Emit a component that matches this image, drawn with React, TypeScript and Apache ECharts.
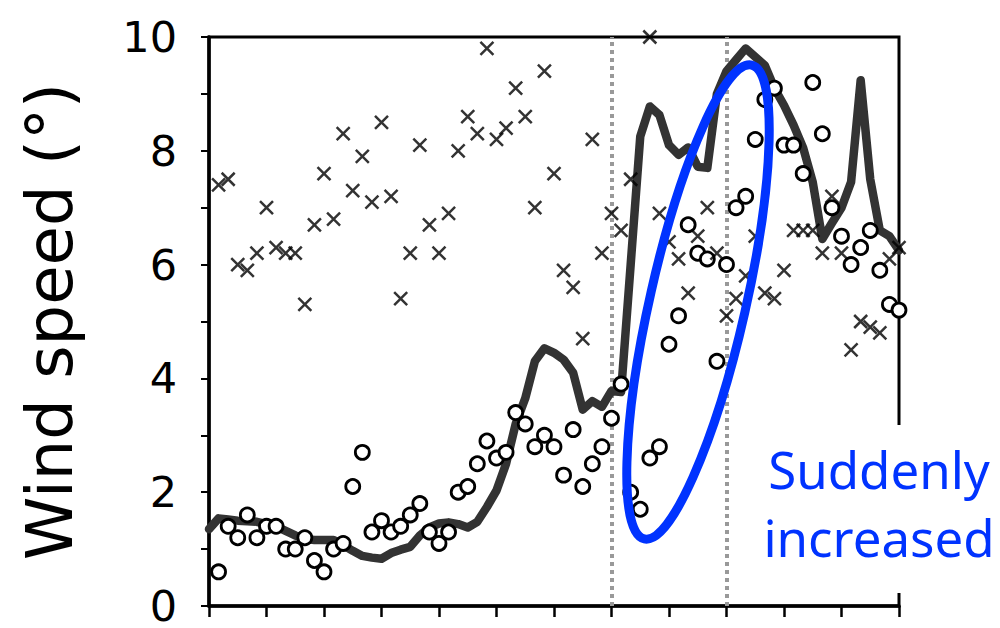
import React, { useEffect, useRef } from "react";
import * as echarts from "echarts";

// Smoothed wind speed (thick line), sampled at time steps 0..72
const lineSpeed = [
  1.35, 1.54, 1.52, 1.5, 1.49, 1.48, 1.44, 1.4, 1.32, 1.24,
  1.18, 1.16, 1.16, 1.16, 1.07, 0.97, 0.88, 0.85, 0.83, 0.93,
  0.99, 1.04, 1.24, 1.38, 1.45, 1.47, 1.44, 1.38, 1.48, 1.74,
  2.03, 2.5, 3.2, 3.65, 4.3, 4.53, 4.45, 4.33, 4.1, 3.45,
  3.6, 3.5, 3.78, 3.76, 6.0, 8.25, 8.78, 8.63, 8.1, 7.93,
  8.06, 7.72, 7.7, 9.0, 9.4, 9.6, 9.8, 9.65, 9.5, 9.1,
  8.8, 8.45, 8.05, 7.45, 6.45, 6.73, 7.0, 7.45, 9.24, 7.5,
  6.6, 6.5, 6.25,
];

// Open circles, time steps 1..72
const circleSpeed = [
  0.6, 1.4, 1.2, 1.6, 1.2, 1.4, 1.4, 1.0, 1.0, 1.2,
  0.8, 0.6, 1.0, 1.1, 2.1, 2.7, 1.3, 1.5, 1.3, 1.4,
  1.6, 1.8, 1.3, 1.1, 1.3, 2.0, 2.1, 2.5, 2.9, 2.6,
  2.7, 3.4, 3.2, 2.8, 3.0, 2.8, 2.3, 3.1, 2.1, 2.5,
  2.8, 3.3, 3.9, 2.0, 1.7, 2.6, 2.8, 4.6, 5.1, 6.7,
  6.2, 6.1, 4.3, 6.0, 7.0, 7.2, 8.2, 8.9, 9.1, 8.1,
  8.1, 7.6, 9.2, 8.3, 7.0, 6.5, 6.0, 6.3, 6.6, 5.9,
  5.3, 5.2,
];

// Crosses, time steps 1..72
const crossSpeed: (number | null)[] = [
  7.4, 7.5, 6.0, 5.9, 6.2, 7.0, 6.3, 6.2, 6.2, 5.3,
  6.7, 7.6, 6.8, 8.3, 7.3, 7.9, 7.1, 8.5, 7.2, 5.4,
  6.2, 8.1, 6.7, 6.2, 6.9, 8.0, 8.6, 8.3, 9.8, 8.2,
  8.4, 9.1, 8.6, 7.0, 9.4, 7.6, 5.9, 5.6, 4.7, 8.2,
  6.2, 6.9, 6.6, 7.5, null, 10.0, 6.9, 6.4, 6.1, 5.5,
  6.5, 7.0, 6.2, 5.1, 5.4, 5.8, 6.5, 5.5, 5.4, 5.9,
  6.6, 6.6, 6.6, 6.2, 7.2, 6.2, 4.5, 5.0, 4.9, 4.8,
  6.1, 6.3,
];

// Event markers (dotted vertical lines), in time steps
const markerTimes = [42, 54];

// Labelled y ticks
const yTickLabels = [0, 2, 4, 6, 8, 10];

const yAxisName = "Wind speed (°)";
const annotation = "Suddenly\nincreased";

export default function App() {
  const ref = useRef<HTMLDivElement>(null);

  useEffect(() => {
    document.body.style.margin = "0";
    if (!ref.current) return;
    const chart = echarts.init(ref.current, null, { renderer: "svg" });

    const option: any = {
      animation: false,
      backgroundColor: "#fff",
      grid: {
        left: 209,
        right: 101,
        top: 37,
        bottom: 22,
        show: true,
        borderColor: "#000",
        borderWidth: 3,
        backgroundColor: "transparent",
      },
      xAxis: {
        type: "value",
        min: 0,
        max: 72,
        interval: 6,
        splitLine: { show: false },
        axisLabel: { show: false },
        axisLine: { show: true, onZero: false, lineStyle: { color: "#000", width: 3.5 } },
        axisTick: { show: true, length: 11, lineStyle: { color: "#000", width: 2.5 } },
      },
      yAxis: {
        type: "value",
        min: 0,
        max: 10,
        interval: 1,
        name: yAxisName,
        nameLocation: "middle",
        nameRotate: 90,
        nameGap: 127,
        nameTextStyle: {
          fontSize: 64,
          fontFamily: "DejaVu Sans",
          color: "#000",
        },
        splitLine: { show: false },
        axisLine: { show: true, lineStyle: { color: "#000", width: 3.5 } },
        axisTick: { show: true, length: 8, lineStyle: { color: "#000", width: 2 } },
        axisLabel: {
          margin: 32,
          fontSize: 43,
          lineHeight: 34,
          fontFamily: "DejaVu Sans",
          color: "#000",
          formatter: (v: number) => (yTickLabels.includes(v) ? String(v) : ""),
        },
      },
      series: [
        {
          type: "line",
          data: lineSpeed.map((v, i) => [i, v]),
          showSymbol: false,
          symbol: "none",
          z: 3,
          lineStyle: { color: "#333", width: 8.5, join: "round", cap: "round" },
          markLine: {
            silent: true,
            symbol: ["none", "none"],
            label: { show: false },
            z: 2,
            lineStyle: { color: "#999", width: 4, type: [4, 4] },
            data: markerTimes.map((t) => ({ xAxis: t })),
          },
        },
        {
          type: "scatter",
          data: circleSpeed.map((v, i) => [i + 1, v]),
          symbol: "circle",
          symbolSize: 14,
          z: 4,
          itemStyle: { color: "#fff", borderColor: "#000", borderWidth: 2.8, opacity: 1 },
        },
        {
          type: "scatter",
          data: crossSpeed.map((v, i) => [i + 1, v]),
          symbol: "path://M0,0L10,10M10,0L0,10",
          symbolSize: 13,
          z: 5,
          itemStyle: { color: "none", borderColor: "#000", borderWidth: 2.5 },
        },
      ],
      graphic: [
        {
          type: "ellipse",
          shape: { cx: 0, cy: 0, rx: 48, ry: 243 },
          x: 698,
          y: 302,
          rotation: -0.223,
          z: 100,
          style: { fill: "none", stroke: "#0033ff", lineWidth: 9 },
        },
        {
          type: "rect",
          shape: { x: 760, y: 425, width: 240, height: 168 },
          z: 101,
          style: { fill: "#fff" },
        },
        {
          type: "text",
          x: 879,
          y: 435,
          z: 102,
          style: {
            text: annotation,
            fontSize: 51,
            fontFamily: "Noto Sans",
            fill: "#0033ff",
            align: "center",
            verticalAlign: "top",
            lineHeight: 68,
          },
        },
      ],
    };

    chart.setOption(option);
    return () => chart.dispose();
  }, []);

  return <div ref={ref} style={{ width: 1000, height: 628 }} />;
}
